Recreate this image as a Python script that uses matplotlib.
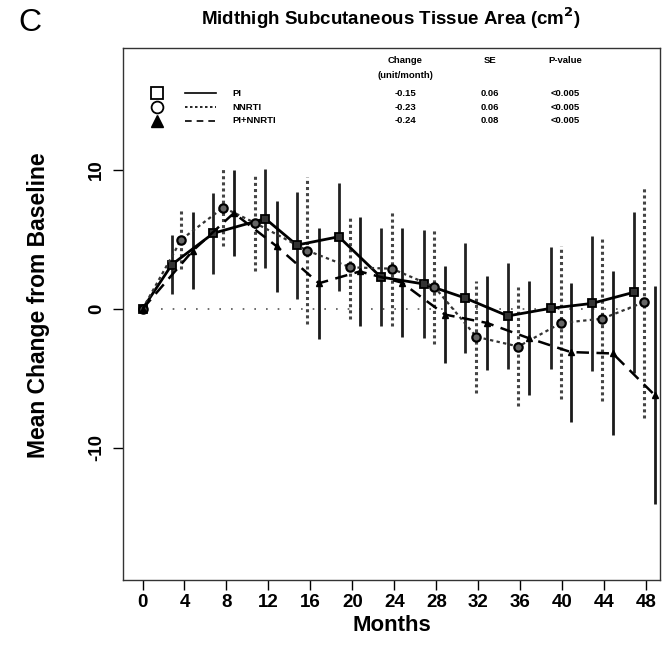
import matplotlib
matplotlib.use("Agg")
import matplotlib.pyplot as plt
from matplotlib.lines import Line2D

plt.rcParams['font.family'] = ['Liberation Sans', 'DejaVu Sans']

# ---- data (months, mean change, half error bar) ----
pi_x = [0, 2.8, 6.75, 11.7, 14.7, 18.7, 22.7, 26.8, 30.7, 34.8, 38.9, 42.8, 46.8]
pi_y = [0, 3.2, 5.45, 6.5, 4.6, 5.2, 2.3, 1.8, 0.8, -0.5, 0.05, 0.4, 1.2]
pi_e = [0, 2.1, 2.9, 3.55, 3.85, 3.9, 3.5, 3.9, 3.95, 3.8, 4.4, 4.85, 5.8]

nn_x = [0, 3.7, 7.7, 10.7, 15.7, 19.8, 23.75, 27.8, 31.8, 35.8, 39.9, 43.8, 47.8]
nn_y = [0, 5.0, 7.3, 6.2, 4.2, 3.0, 2.9, 1.6, -2.0, -2.7, -1.0, -0.7, 0.5]
nn_e = [0, 2.15, 2.8, 3.5, 5.3, 3.7, 4.1, 4.1, 4.05, 4.25, 5.5, 5.9, 8.35]

tr_x = [0, 4.8, 8.7, 12.8, 16.8, 20.7, 24.7, 28.8, 32.8, 36.8, 40.8, 44.8, 48.8]
tr_y = [0, 4.2, 6.9, 4.5, 1.85, 2.7, 1.9, -0.4, -1.0, -2.1, -3.1, -3.2, -6.2]
tr_e = [0, 2.75, 3.1, 3.3, 4.0, 3.9, 3.9, 3.5, 3.4, 4.1, 5.0, 5.9, 7.85]

groups = ["PI", "NNRTI", "PI+NNRTI"]
change = ["-0.15", "-0.23", "-0.24"]
se = ["0.06", "0.06", "0.08"]
pval = ["<0.005", "<0.005", "<0.005"]

x_ticks = [0, 4, 8, 12, 16, 20, 24, 28, 32, 36, 40, 44, 48]
y_ticks = [-10, 0, 10]

fig = plt.figure(figsize=(6.63, 6.63), dpi=100)
ax = fig.add_axes([0.1855, 0.1252, 0.81, 0.8024])
ax.set_xlim(-1.86, 49.3)
ax.set_ylim(-19.5, 18.78)

# reference zero line
ax.axhline(0, xmin=0.07, xmax=0.95, color='#555555', lw=1.2,
           linestyle=(0, (1, 6)), zorder=1)

# error bars
ax.vlines(pi_x, [y - e for y, e in zip(pi_y, pi_e)], [y + e for y, e in zip(pi_y, pi_e)],
          colors='#222222', lw=2.0, zorder=2)
ax.vlines(nn_x, [y - e for y, e in zip(nn_y, nn_e)], [y + e for y, e in zip(nn_y, nn_e)],
          colors='#444444', lw=2.2, linestyles=(0, (1, 1)), zorder=2)
ax.vlines(tr_x, [y - e for y, e in zip(tr_y, tr_e)], [y + e for y, e in zip(tr_y, tr_e)],
          colors='#1a1a1a', lw=2.0, zorder=2)

# lines and markers
ax.plot(pi_x, pi_y, color='black', lw=2.0, linestyle='-', marker='s', ms=5.5,
        mfc='#333333', mec='black', mew=1.3, zorder=4)
ax.plot(nn_x, nn_y, color='#333333', lw=1.6, linestyle=(0, (1.5, 1.5)), marker='o', ms=6,
        mfc='#666666', mec='black', mew=1.6, zorder=4)
ax.plot(tr_x, tr_y, color='black', lw=1.8, linestyle=(0, (5, 3)), marker='^', ms=4.5,
        mfc='black', mec='black', zorder=4)

# ticks
ax.set_xticks(x_ticks)
ax.set_xticklabels([str(t) for t in x_ticks], fontsize=13.5, fontweight='bold')
ax.set_yticks(y_ticks)
ax.set_yticklabels([str(t) for t in y_ticks], fontsize=13.5, fontweight='bold', rotation=90,
                   va='center')
ax.tick_params(axis='x', direction='out', length=7, width=1.0, pad=3)
ax.tick_params(axis='y', direction='out', length=7, width=1.0, pad=6)
for s in ax.spines.values():
    s.set_linewidth(1.0)
    s.set_color('#333333')

ax.set_xlabel("Months", fontsize=16, fontweight='bold', labelpad=3)
ax.set_ylabel("Mean Change from Baseline", fontsize=16.5, fontweight='bold')
ax.yaxis.set_label_coords(-0.135, 0.517)

fig.text(0.59, 0.972, "Midthigh Subcutaneous Tissue Area (cm$^\\mathbf{2}$)", ha='center',
         va='center', fontsize=13.5, fontweight='bold')
fig.text(0.045, 0.965, "C", ha='center', va='center', fontsize=23)

# legend / table
tf = ax.transAxes
def fx(px):
    return (px - 123) / (660 - 123)
def fy(py):
    return 1 - (py - 48) / (580 - 48)

fsz = 6.8
ax.text(fx(405), fy(60), "Change", transform=tf, ha='center', va='center', fontsize=fsz, fontweight='bold')
ax.text(fx(405), fy(75), "(unit/month)", transform=tf, ha='center', va='center', fontsize=fsz, fontweight='bold')
ax.text(fx(490), fy(60), "SE", transform=tf, ha='center', va='center', fontsize=fsz, fontweight='bold')
ax.text(fx(565), fy(60), "P-value", transform=tf, ha='center', va='center', fontsize=fsz, fontweight='bold')

rows_y = [93, 107, 121]
markers = [dict(marker='s', mfc='white', mec='black', ms=8.5, mew=1.3),
           dict(marker='o', mfc='white', mec='black', ms=8.5, mew=1.3),
           dict(marker='^', mfc='black', mec='black', ms=8)]
styles = ['-', (0, (1.5, 1.5)), (0, (4, 3))]
for i in range(3):
    yy = fy(rows_y[i])
    ax.add_line(Line2D([fx(157)], [yy], transform=tf, linestyle='none', **markers[i]))
    ax.add_line(Line2D([fx(185), fx(216)], [yy, yy], transform=tf, color='black',
                       lw=1.2, linestyle=styles[i]))
    ax.text(fx(232), yy, groups[i], transform=tf, ha='left', va='center', fontsize=fsz, fontweight='bold')
    ax.text(fx(405), yy, change[i], transform=tf, ha='center', va='center', fontsize=fsz, fontweight='bold')
    ax.text(fx(490), yy, se[i], transform=tf, ha='center', va='center', fontsize=fsz, fontweight='bold')
    ax.text(fx(565), yy, pval[i], transform=tf, ha='center', va='center', fontsize=fsz, fontweight='bold')

fig.savefig("out.png", dpi=100)
